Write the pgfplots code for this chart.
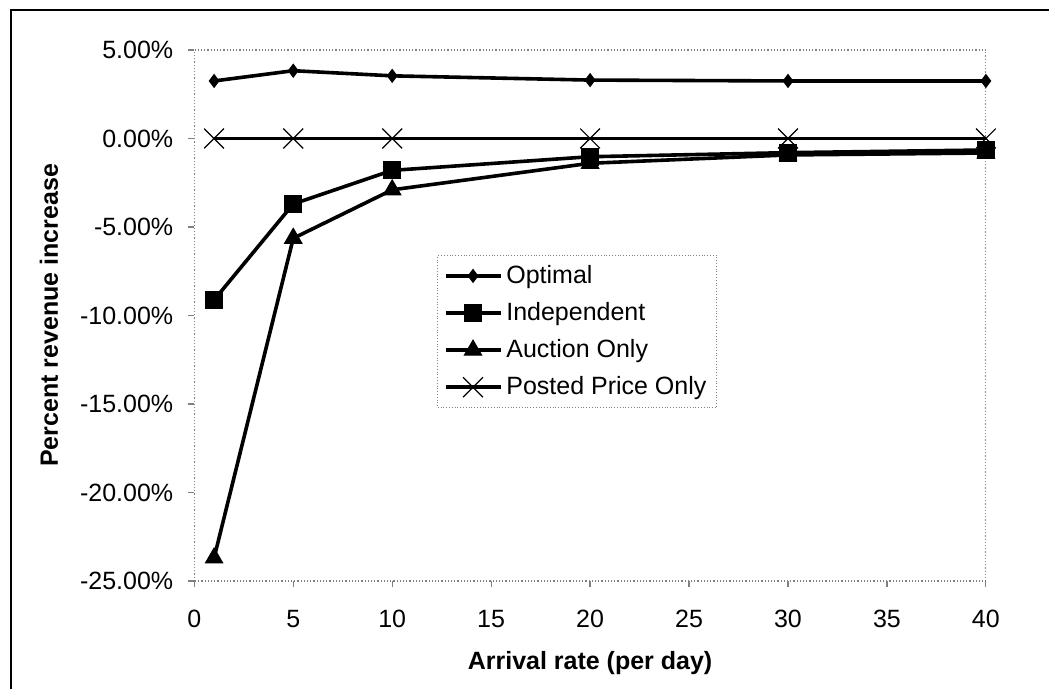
\documentclass[border=0pt]{standalone}
\usepackage{pgfplots}
\pgfplotsset{compat=1.18}
\usepackage{fontspec}
\setmainfont{Liberation Sans}
\begin{document}
\begin{tikzpicture}
\useasboundingbox (-97.15pt,-54pt) rectangle (427.35pt,290.5pt);
\draw[black, line width=0.9pt] (-91.65pt,-54pt) -- (-91.65pt,285.5pt) -- (427.35pt,285.5pt);
\begin{axis}[
  at={(0pt,0pt)}, anchor=south west,
  scale only axis, width=395.8pt, height=265.5pt,
  xmin=0, xmax=40, ymin=-25, ymax=5,
  xtick={0,5,...,40},
  ytick={-25,-20,-15,-10,-5,0,5},
  yticklabels={-25.00\%,-20.00\%,-15.00\%,-10.00\%,-5.00\%,0.00\%,5.00\%},
  /pgf/number format/assume math mode=true,
  tick label style={font=\fontsize{12.5}{14}\selectfont},
  xticklabel style={yshift=-8pt},
  yticklabel style={xshift=-4pt},
  axis line style={gray, densely dotted, line width=0.6pt},
  tick style={gray, line width=0.6pt},
  tick align=outside, major tick length=3pt,
  xtick pos=bottom, ytick pos=left,
  xlabel={\bfseries Arrival rate (per day)},
  ylabel={\bfseries Percent revenue increase},
  label style={font=\fontsize{12.5}{14}\selectfont\bfseries},
  xlabel style={at={(axis description cs:0.5,-0.1545)}, anchor=center},
  ylabel style={at={(axis description cs:-0.1837,0.5)}, anchor=center, rotate=0},
  legend style={at={(0.307,0.614)}, anchor=north west, draw=gray, densely dotted,
    font=\fontsize{12.5}{14}\selectfont, row sep=4pt, inner sep=3pt,
    text depth=0pt, nodes={solid}},
  legend cell align=left,
  legend image code/.code={\draw[mark repeat=2,mark phase=2, solid] plot coordinates {(0pt,0pt) (13.75pt,0pt) (27.5pt,0pt)};},
  clip=false,
]
\addplot[black, line width=1.8pt, mark=diamond*, mark size=3.2pt, mark options={solid, line width=0.5pt}]
  coordinates {(1,3.25) (5,3.83) (10,3.54) (20,3.30) (30,3.25) (40,3.25)};
\addlegendentry{Optimal}
\addplot[black, line width=1.8pt, mark=square*, mark size=4.2pt, mark options={solid, line width=0.5pt}]
  coordinates {(1,-9.12) (5,-3.70) (10,-1.80) (20,-1.03) (30,-0.80) (40,-0.65)};
\addlegendentry{Independent}
\addplot[black, line width=1.8pt, mark=triangle*, mark size=5pt, mark options={solid, line width=0.5pt}]
  coordinates {(1,-23.7) (5,-5.64) (10,-2.90) (20,-1.40) (30,-0.93) (40,-0.82)};
\addlegendentry{Auction Only}
\addplot[black, line width=1.8pt, mark=x, mark size=7pt, mark options={solid, line width=0.6pt}]
  coordinates {(1,0) (5,0) (10,0) (20,0) (30,0) (40,0)};
\addlegendentry{Posted Price Only}
\end{axis}
\end{tikzpicture}
\end{document}
